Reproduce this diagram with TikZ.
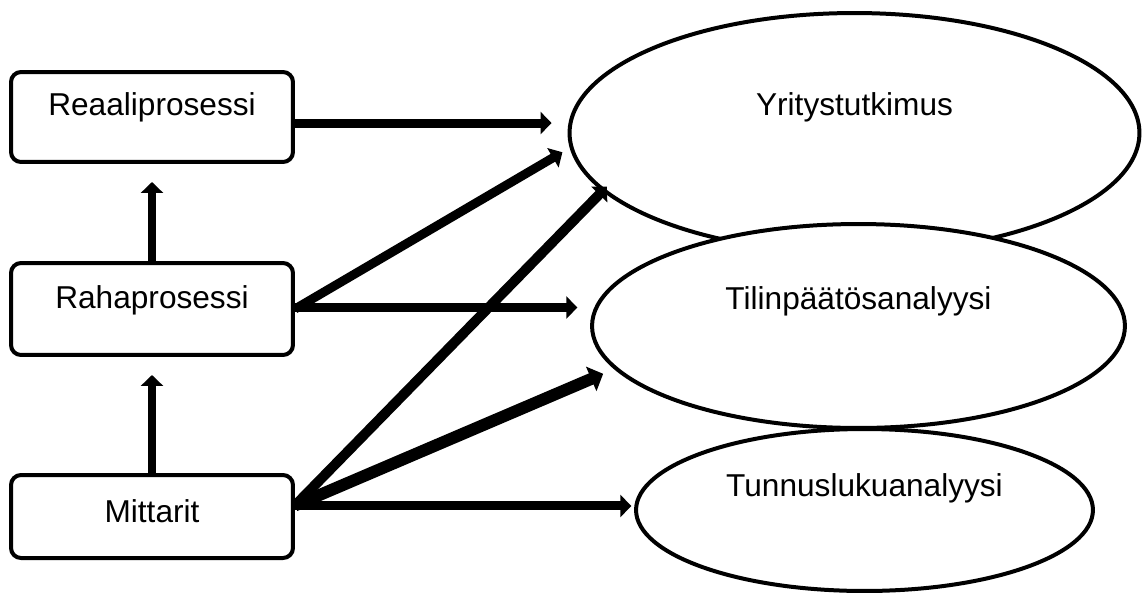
\documentclass[tikz,border=0pt]{standalone}
\usepackage{fontspec}
\setmainfont{Liberation Sans}
\usetikzlibrary{shapes.geometric, arrows.meta, calc}

\begin{document}
\begin{tikzpicture}[x=0.02cm, y=-0.02cm,
  font=\fontsize{18}{22}\selectfont,
  procbox/.style={draw, line width=0.08cm, rounded corners=0.2cm, fill=white,
    minimum width=5.64cm, minimum height=1.8cm},
  oval/.style={draw, ellipse, line width=0.08cm, fill=white, inner sep=0pt},
  link/.style={line width=0.18cm, -{Triangle[width=0.44cm, length=0.22cm]}}]
\useasboundingbox (0,0) rectangle (1144,596);
% --- Ellipses ---
\node[oval, minimum width=11.4cm, minimum height=4.8cm,
  label={[yshift=0.52cm]center:Yritystutkimus}] (yrit) at (854.5,133) {};
\node[oval, minimum width=10.66cm, minimum height=4.08cm,
  label={[yshift=0.5cm]center:Tilinpäätösanalyysi}] (tilin) at (858.5,326) {};
\node[oval, minimum width=9.14cm, minimum height=3.24cm,
  label={[yshift=0.44cm]center:Tunnuslukuanalyysi}] (tunnus) at (864.5,510) {};
% --- Boxes ---
\node[procbox, label={[yshift=0.2cm]center:Reaaliprosessi}] (reaali) at (152,117) {};
\node[procbox, minimum height=1.84cm, label={[yshift=0.18cm]center:Rahaprosessi}] (raha) at (152,309) {};
\node[procbox, minimum height=1.66cm, label={[yshift=0.1cm]center:Mittarit}] (mitt) at (152,516.5) {};
% --- Arrows ---
\draw[link, shorten >=0.36cm] (raha.north) -- (reaali.south);
\draw[link, shorten >=0.36cm] (mitt.north) -- (raha.south);
\draw[link, shorten >=0.34cm] (reaali.east |- yrit.178.5) -- (yrit.178.5);
\draw[link, shorten >=0.17cm] (raha.east) -- (yrit.183);
\draw[link, shorten >=0.34cm] (raha.east |- tilin.176) -- (tilin.176);
\coordinate (mitt-out) at ($(mitt.east)+(0,-11)$);
\draw[link, line width=0.2cm, shorten >=-0.13cm] (mitt-out) -- (yrit.193.5);
\draw[link, line width=0.24cm, -{Triangle[width=0.52cm, length=0.26cm]}, shorten >=0.24cm] (mitt-out) -- (tilin.190);
\draw[link, shorten >=0.06cm] (mitt.east |- tunnus.179) -- (tunnus.179);
\end{tikzpicture}
\end{document}
